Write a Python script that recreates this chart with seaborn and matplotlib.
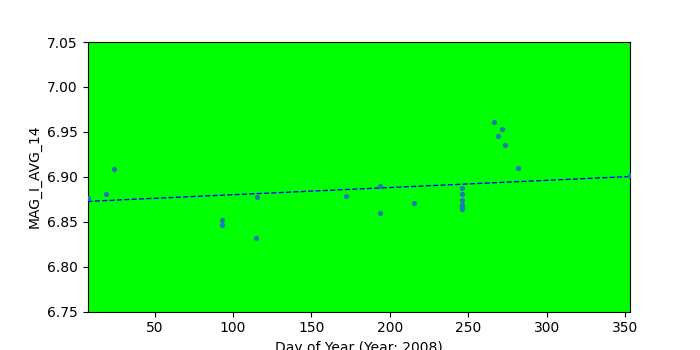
import numpy as np
import pandas as pd
import matplotlib
matplotlib.use("Agg")
import matplotlib.pyplot as plt
import seaborn as sns

days = [7.2, 18.9, 23.8, 93.0, 93.0, 114.7, 115.3, 172.1, 193.8, 193.8, 215.5,
        246.2, 246.2, 246.2, 246.2, 246.2, 246.2, 266.6, 269.1, 271.7, 273.6, 281.9, 353.2]
mags = [6.876, 6.881, 6.909, 6.852, 6.846, 6.832, 6.878, 6.879, 6.890, 6.860, 6.871,
        6.888, 6.881, 6.874, 6.869, 6.867, 6.864, 6.961, 6.945, 6.953, 6.935, 6.910, 6.902]

# trend line (as shown in the reference)
trend_slope = 8.0e-5
trend_intercept = 6.8720

xlabel = "Day of Year (Year: 2008)"
ylabel = "MAG_I_AVG_14"
yticks = [6.75, 6.80, 6.85, 6.90, 6.95, 7.00, 7.05]

df = pd.DataFrame({"day": days, "mag": mags})

fig, ax = plt.subplots(figsize=(7, 3.5), dpi=100)
ax.set_facecolor("#00ff00")

sns.scatterplot(data=df, x="day", y="mag", ax=ax, s=14, color="#1f77b4",
                linewidth=0, zorder=3)

xl = np.array([min(days), max(days)])
trend = pd.DataFrame({"day": xl, "mag": trend_intercept + trend_slope * xl})
ax.plot(trend["day"], trend["mag"], "b--", linewidth=1, zorder=2)

ax.set_xlim(min(days), max(days))
ax.set_ylim(6.75, 7.05)
ax.set_yticks(yticks)
ax.set_yticklabels([f"{v:.2f}" for v in yticks])
ax.set_xlabel(xlabel)
ax.set_ylabel(ylabel)

fig.savefig("out.png", dpi=100)
